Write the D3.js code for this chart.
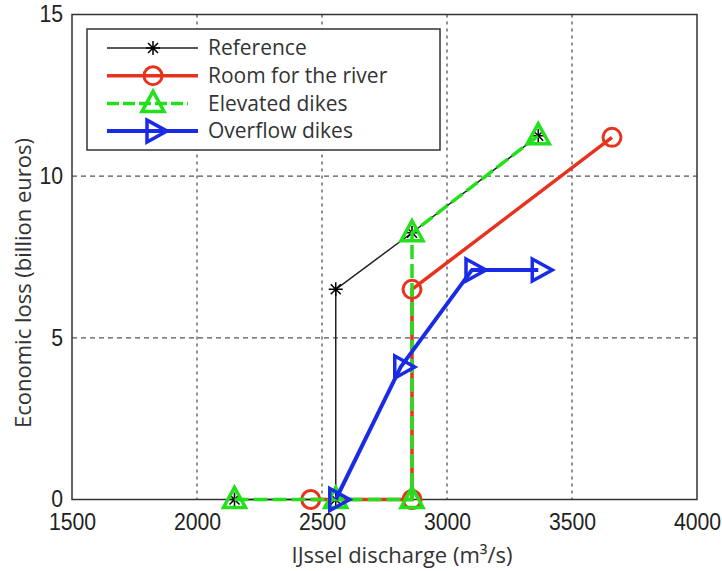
<!DOCTYPE html>
<html>
<head>
<meta charset="utf-8">
<script src="https://cdn.jsdelivr.net/npm/d3@7"></script>
<style>
  body { margin: 0; background: #fff; }
  .tick text { font-family: "Liberation Sans", Arial, sans-serif; font-size: 23px; fill: #222; }
  .lbl { font-family: "Open Sans", sans-serif; font-size: 22px; fill: #333; }
  .leg { font-family: "Open Sans", sans-serif; font-size: 21px; fill: #333; }
</style>
</head>
<body>
<div id="chart"></div>
<script>
// data
const xTicks = [1500, 2000, 2500, 3000, 3500, 4000];
const yTicks = [0, 5, 10, 15];

const refX = [2150, 2555, 2555, 2860, 3365];
const refY = [0, 0, 6.5, 8.25, 11.25];
const roomX = [2455, 2860, 2860, 3660];
const roomY = [0, 0, 6.5, 11.2];
const elevX = [2150, 2555, 2860, 2860, 3365];
const elevY = [0, 0, 0, 8.25, 11.25];
const overX = [2555, 2815, 3100, 3365];
const overY = [0, 4.1, 7.1, 7.1];

const seriesNames = ["Reference", "Room for the river", "Elevated dikes", "Overflow dikes"];

const svg = d3.select("#chart").append("svg")
  .attr("width", 722)
  .attr("height", 571);

const margin = {top: 14.5, right: 25, bottom: 71.5, left: 72},
  width = 722 - margin.left - margin.right,
  height = 571 - margin.top - margin.bottom;

const g = svg.append("g").attr("transform", "translate(" + margin.left + "," + margin.top + ")");

const x = d3.scaleLinear().domain([1500, 4000]).range([0, width]);
const y = d3.scaleLinear().domain([0, 15]).range([height, 0]);

// grid
g.append("g").selectAll("line")
  .data(xTicks.slice(1, -1))
  .enter().append("line")
  .attr("x1", d => x(d)).attr("x2", d => x(d))
  .attr("y1", 0).attr("y2", height)
  .attr("stroke", "#555").attr("stroke-width", 1.3)
  .attr("stroke-dasharray", "3,4");

g.append("g").selectAll("line")
  .data(yTicks.slice(1, -1))
  .enter().append("line")
  .attr("y1", d => y(d)).attr("y2", d => y(d))
  .attr("x1", 0).attr("x2", width)
  .attr("stroke", "#555").attr("stroke-width", 1.3)
  .attr("stroke-dasharray", "5,4");

// box
g.append("rect")
  .attr("width", width).attr("height", height)
  .attr("fill", "none").attr("stroke", "#333").attr("stroke-width", 1.5);

// axes (narrow digits like the original)
const squeeze = sel => sel.selectAll(".tick text")
  .attr("textLength", function () { return this.textContent.length * 11.8; })
  .attr("lengthAdjust", "spacingAndGlyphs");

g.append("g")
  .attr("transform", "translate(0," + height + ")")
  .call(d3.axisBottom(x).tickValues(xTicks).tickFormat(d3.format("d")).tickSize(0).tickPadding(14))
  .call(a => a.select(".domain").remove())
  .call(squeeze);

g.append("g")
  .call(d3.axisLeft(y).tickValues(yTicks).tickSize(0).tickPadding(9))
  .call(a => a.select(".domain").remove())
  .call(squeeze);

svg.append("text").attr("class", "lbl")
  .attr("x", 402).attr("y", 563)
  .attr("text-anchor", "middle")
  .text("IJssel discharge (m³/s)");

svg.append("text").attr("class", "lbl")
  .attr("transform", "translate(31,283) rotate(-90)")
  .attr("text-anchor", "middle")
  .text("Economic loss (billion euros)");

// markers
const asterisk = (sel) => {
  sel.append("path")
    .attr("d", "M-7,0H7M0,-7V7M-5,-5L5,5M-5,5L5,-5")
    .attr("stroke", "#000").attr("stroke-width", 1.5).attr("fill", "none");
};
const circle = (sel) => {
  sel.append("circle").attr("r", 9)
    .attr("stroke", "#e8321e").attr("stroke-width", 3).attr("fill", "none");
};
const triUp = (sel) => {
  sel.append("path").attr("d", "M0,-12L11,8L-11,8Z")
    .attr("stroke", "#22e01a").attr("stroke-width", 3.5).attr("fill", "none")
    .attr("stroke-linejoin", "miter");
};
const triRight = (sel) => {
  sel.append("path").attr("d", "M-6,-11L14,0L-6,11Z")
    .attr("stroke", "#1a2be6").attr("stroke-width", 3.5).attr("fill", "none");
};

const series = [
  {xs: refX, ys: refY, color: "#222", w: 1.5, dash: null, mark: asterisk},
  {xs: roomX, ys: roomY, color: "#e8321e", w: 3.5, dash: null, mark: circle},
  {xs: elevX, ys: elevY, color: "#22e01a", w: 3.5, dash: "14,5", mark: triUp},
  {xs: overX, ys: overY, color: "#1a2be6", w: 4, dash: null, mark: triRight}
];

const line = d3.line().x(d => x(d[0])).y(d => y(d[1]));

series.forEach(s => {
  const pts = s.xs.map((v, i) => [v, s.ys[i]]);
  g.append("path")
    .datum(pts)
    .attr("d", line)
    .attr("fill", "none")
    .attr("stroke", s.color)
    .attr("stroke-width", s.w)
    .attr("stroke-dasharray", s.dash);
  g.selectAll(null)
    .data(pts)
    .enter().append("g")
    .attr("transform", d => "translate(" + x(d[0]) + "," + y(d[1]) + ")")
    .each(function () { s.mark(d3.select(this)); });
});

// legend
const legend = svg.append("g").attr("transform", "translate(87,29)");
legend.append("rect")
  .attr("width", 353).attr("height", 121)
  .attr("fill", "#fff").attr("stroke", "#333").attr("stroke-width", 1.5);

const items = legend.selectAll(".legend")
  .data(series)
  .enter().append("g")
  .attr("class", "legend")
  .attr("transform", (d, i) => "translate(0," + (19 + i * 27.7) + ")");

items.append("line")
  .attr("x1", 20).attr("x2", d => d.dash ? 101 : 111)
  .attr("stroke", d => d.color)
  .attr("stroke-width", d => d.w)
  .attr("stroke-dasharray", d => d.dash ? "12,4" : null);

items.append("g")
  .attr("transform", "translate(66,0)")
  .each(function (d) { d.mark(d3.select(this)); });

items.append("text").attr("class", "leg")
  .attr("x", 121).attr("dy", "0.35em")
  .text((d, i) => seriesNames[i]);
</script>
</body>
</html>
